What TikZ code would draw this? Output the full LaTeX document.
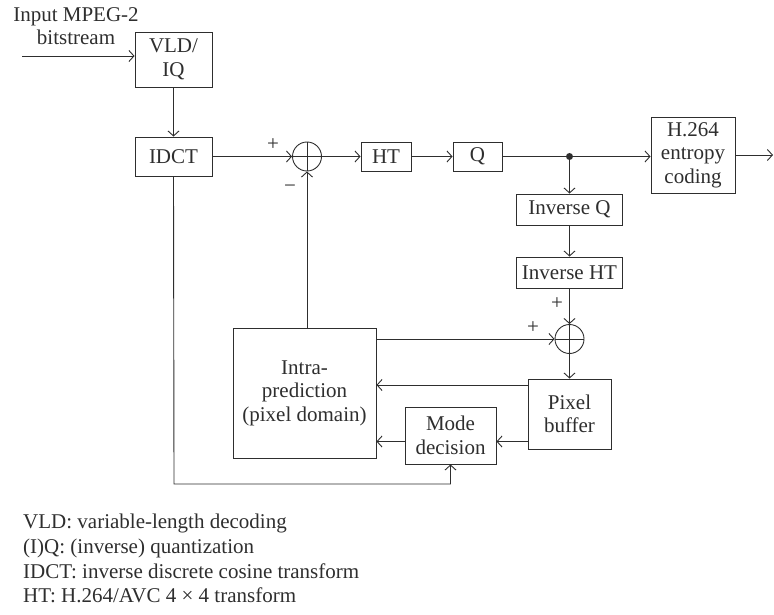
\documentclass[tikz,border=0pt]{standalone}
\usepackage{fontspec}
\setmainfont{Liberation Serif}
\usetikzlibrary{arrows.meta,calc}
\definecolor{ink}{rgb}{0.18,0.18,0.18}
\begin{document}
\begin{tikzpicture}[x=1pt,y=-1pt,
  every node/.style={font=\fontsize{21}{23.5}\selectfont, text=ink},
  blk/.style={draw=ink, line width=0.9pt, inner sep=0pt, align=center},
  adder/.style={draw=ink, line width=0.9pt, circle, minimum size=29pt, inner sep=0pt,
    path picture={\draw[ink, line width=0.9pt] (path picture bounding box.north) -- (path picture bounding box.south)
      (path picture bounding box.east) -- (path picture bounding box.west);}},
  conn/.style={draw=ink, line width=0.9pt},
  arr/.style={conn, -{Straight Barb[length=5pt,width=11pt]}},
  lbl/.style={inner sep=0pt}
]
\useasboundingbox (0,0) rectangle (774,615);

% nodes
\node[blk, minimum width=77pt, minimum height=55pt] (vld) at (173.5,59.5) {VLD/\\IQ};
\node[blk, minimum width=77pt, minimum height=39pt] (idct) at (173.5,156.5) {IDCT};
\node[adder] (add1) at (307,156.5) {};
\node[blk, minimum width=50pt, minimum height=29pt] (ht) at (386,156.5) {HT};
\node[blk, minimum width=49pt, minimum height=29pt] (q) at (477.5,156.5) {Q};
\node[circle, fill=ink, inner sep=0pt, minimum size=7pt] (dot) at (569.5,156.5) {};
\node[blk, minimum width=84pt, minimum height=76pt] (ent) at (693,155) {H.264\\entropy\\coding};
\node[blk, minimum width=106pt, minimum height=31pt] (invq) at (569.5,209.5) {Inverse Q};
\node[blk, minimum width=106pt, minimum height=31pt] (invht) at (569.5,272.5) {Inverse HT};
\node[adder] (add2) at (569.5,339) {};
\node[blk, minimum width=83pt, minimum height=70pt] (pix) at (569.5,414) {Pixel\\buffer};
\node[blk, minimum width=143pt, minimum height=130pt] (intra) at (304.5,393) {Intra-\\prediction\\(pixel domain)};
\node[blk, minimum width=91pt, minimum height=57pt] (mode) at (450.5,435.5) {Mode\\decision};

\node[lbl, align=center] (inlbl) at (76,26) {Input MPEG-2\\bitstream};
\coordinate (in) at (22,56);
\coordinate (out) at (773,155);
\coordinate (bot) at (174,484);
\coordinate (r1) at (0,385);
\coordinate (r2) at (0,441.5);

% connectors
\draw[arr] (in) -- (in -| vld.west);
\draw[arr] (vld) -- (idct);
\draw[arr] (idct) -- (add1);
\draw[arr] (add1) -- (ht);
\draw[arr] (ht) -- (q);
\draw[conn] (q.east) -- (dot);
\draw[arr] (dot) -- (dot -| ent.west);
\draw[arr] (ent.east) -- (out);
\draw[arr] (dot) -- (invq);
\draw[arr] (invq) -- (invht);
\draw[arr] (invht) -- (add2);
\draw[arr] (add2) -- (pix);
\draw[arr] (intra.north -| add1) -- (add1);
\draw[arr] (intra.east |- add2) -- (add2);
\draw[arr] (pix.west |- r1) -- (intra.east |- r1);
\draw[arr] (pix.west |- r2) -- (mode.east |- r2);
\draw[arr] (mode.west |- r2) -- (intra.east |- r2);
\draw[arr] (idct.south) -- (bot) -- (bot -| mode.south) -- (mode.south);

% signs
\node[lbl] (p1) at (273,145) {+};
\node[lbl] (m1) at (290,189) {−};
\node[lbl] (p2) at (557,304) {+};
\node[lbl] (p3) at (533,328) {+};

% legend
\node[lbl, anchor=base west] (l1) at (23,528) {VLD: variable-length decoding};
\node[lbl, anchor=base west] (l2) at (23,553) {(I)Q: (inverse) quantization};
\node[lbl, anchor=base west] (l3) at (23,578) {IDCT: inverse discrete cosine transform};
\node[lbl, anchor=base west] (l4) at (23,602) {HT: H.264/AVC 4 × 4 transform};
\end{tikzpicture}
\end{document}
